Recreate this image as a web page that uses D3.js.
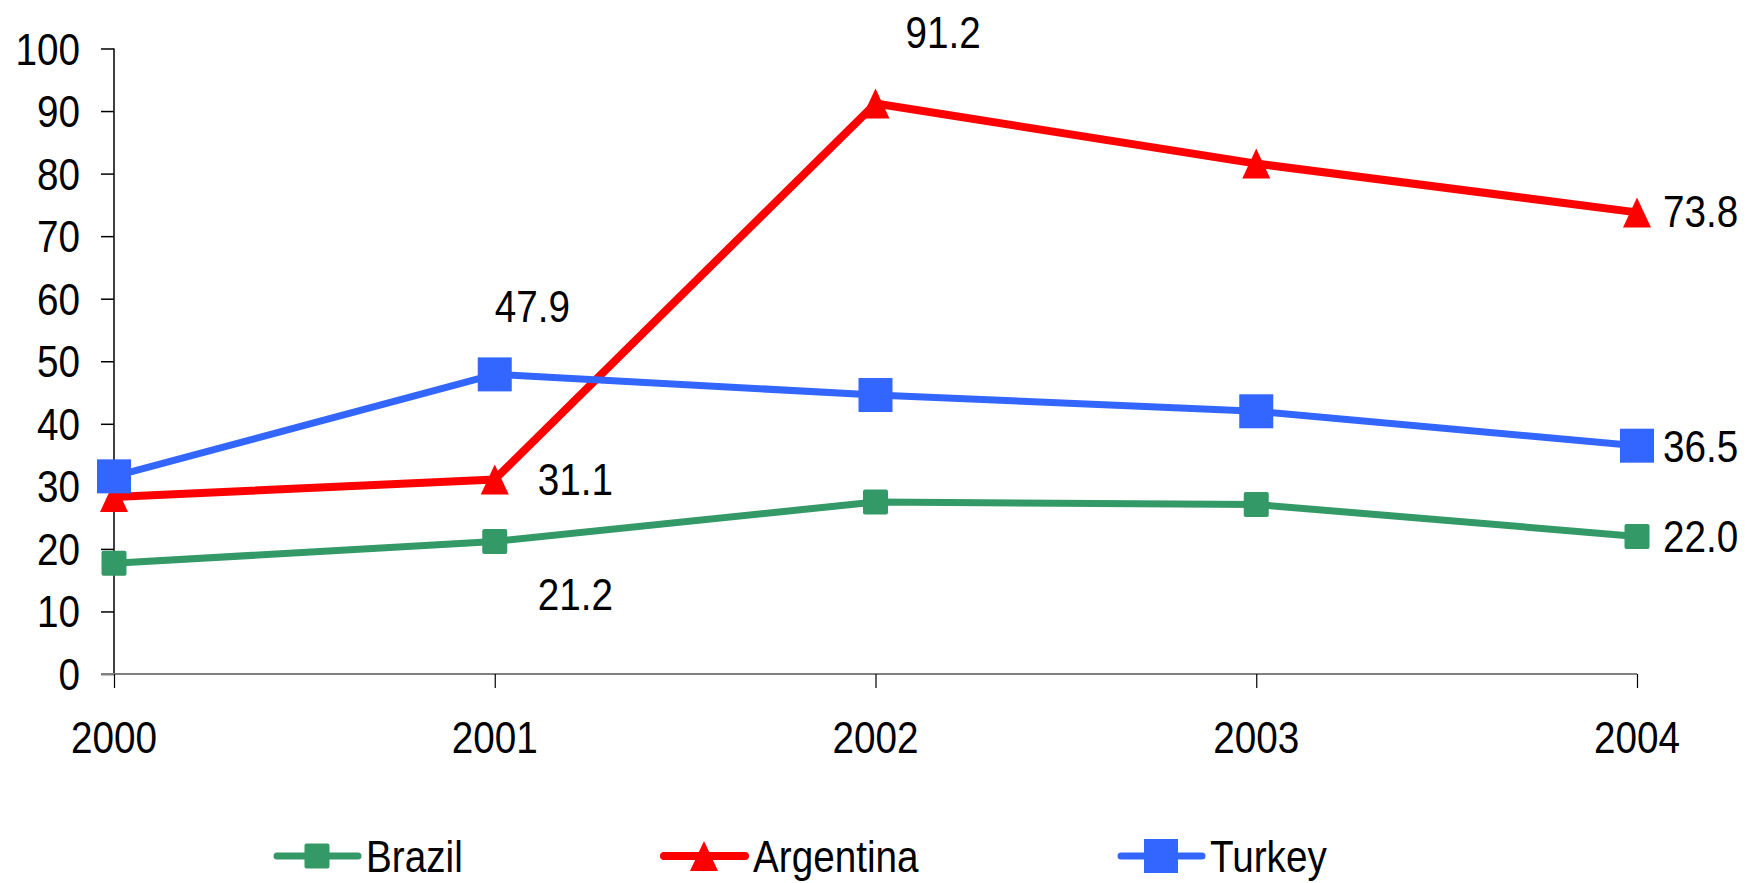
<!DOCTYPE html>
<html>
<head>
<meta charset="utf-8">
<script src="https://cdn.jsdelivr.net/npm/d3@7"></script>
<style>
  body { margin: 0; background: #fff; }
  text { font-family: "Liberation Sans", Arial, sans-serif; fill: #000; }
</style>
</head>
<body>
<div id="chart"></div>
<script>
// data
const years = ["2000", "2001", "2002", "2003", "2004"];
const brazil = [17.7, 21.2, 27.5, 27.1, 22.0];
const argentina = [28.3, 31.1, 91.2, 81.6, 73.8];
const turkey = [31.6, 47.9, 44.6, 42.0, 36.5];
const yTicks = [0, 10, 20, 30, 40, 50, 60, 70, 80, 90, 100];

const W = 1748, H = 883;
const fontSize = 45, squeeze = 0.86; // text in the source is a bit narrow

const svg = d3.select("#chart").append("svg")
  .attr("width", W).attr("height", H);

const x = d3.scalePoint().domain(years).range([114, 1637]);
const y = d3.scaleLinear().domain([0, 100]).range([674, 48.5]);

// narrow text helper
function label(g, tx, ty, str, anchor) {
  g.append("text")
    .attr("transform", `translate(${tx},${ty}) scale(${squeeze},1)`)
    .attr("text-anchor", anchor || "start")
    .attr("font-size", fontSize)
    .text(str);
}

// y axis
const yAxis = svg.append("g")
  .attr("transform", "translate(114,0)")
  .call(d3.axisLeft(y).tickValues(yTicks).tickSize(13).tickFormat(""));
yAxis.selectAll("path, line").attr("stroke", "#000").attr("stroke-width", 1.5);
yAxis.select(".domain").attr("d", `M0,${y(100)}V${y(0)}`);
yTicks.forEach(t => label(svg, 80, y(t) + 16, t, "end"));

// x axis
const xAxis = svg.append("g")
  .attr("transform", `translate(0,${y(0)})`)
  .call(d3.axisBottom(x).tickSize(14).tickSizeOuter(0).tickFormat(""));
xAxis.select(".domain").attr("stroke", "#808080").attr("stroke-width", 2)
  .attr("d", `M101,0H${x("2004")}`);
xAxis.selectAll(".tick line").attr("stroke", "#000").attr("stroke-width", 1.2);
years.forEach(yr => label(svg, x(yr), y(0) + 79, yr, "middle"));

const series = [
  {name: "Brazil", values: brazil, color: "#339966", width: 7, shape: "square", size: 25},
  {name: "Argentina", values: argentina, color: "#FF0000", width: 8, shape: "triangle", size: 28},
  {name: "Turkey", values: turkey, color: "#3366FF", width: 7, shape: "square", size: 34}
];

const line = d3.line().x((d, i) => x(years[i])).y(d => y(d));

function marker(g, cx, cy, s) {
  if (s.shape === "square") {
    g.append("rect")
      .attr("x", cx - s.size / 2).attr("y", cy - s.size / 2)
      .attr("width", s.size).attr("height", s.size)
      .attr("rx", s.size < 30 ? 2 : 0)
      .attr("fill", s.color);
  } else {
    const h = 30, w = s.size;
    g.append("path")
      .attr("d", `M${cx},${cy - h / 2}L${cx + w / 2},${cy + h / 2}L${cx - w / 2},${cy + h / 2}Z`)
      .attr("fill", s.color);
  }
}

series.forEach(s => {
  const g = svg.append("g");
  g.append("path").datum(s.values)
    .attr("d", line)
    .attr("fill", "none")
    .attr("stroke", s.color)
    .attr("stroke-width", s.width)
    .attr("stroke-linejoin", "round");
  s.values.forEach((v, i) => marker(g, x(years[i]), y(v), s));
});

// value labels, offset from their point
const valueLabels = [
  {values: turkey, i: 1, dx: 0, dy: -52},
  {values: argentina, i: 2, dx: 30, dy: -56},
  {values: argentina, i: 1, dx: 43, dy: 16},
  {values: brazil, i: 1, dx: 43, dy: 69},
  {values: argentina, i: 4, dx: 26, dy: 15},
  {values: turkey, i: 4, dx: 26, dy: 16},
  {values: brazil, i: 4, dx: 26, dy: 16}
];
valueLabels.forEach(l => {
  const v = l.values[l.i];
  label(svg, x(years[l.i]) + l.dx, y(v) + l.dy, v.toFixed(1));
});

// legend
const legendX = [277, 664, 1121];
const legendY = 856;
series.forEach((s, i) => {
  const g = svg.append("g");
  g.append("line")
    .attr("x1", legendX[i]).attr("x2", legendX[i] + 81)
    .attr("y1", legendY).attr("y2", legendY)
    .attr("stroke", s.color).attr("stroke-width", s.width)
    .attr("stroke-linecap", "round");
  marker(g, legendX[i] + 40, legendY, s);
  label(g, legendX[i] + 89, legendY + 16, s.name);
});
</script>
</body>
</html>
